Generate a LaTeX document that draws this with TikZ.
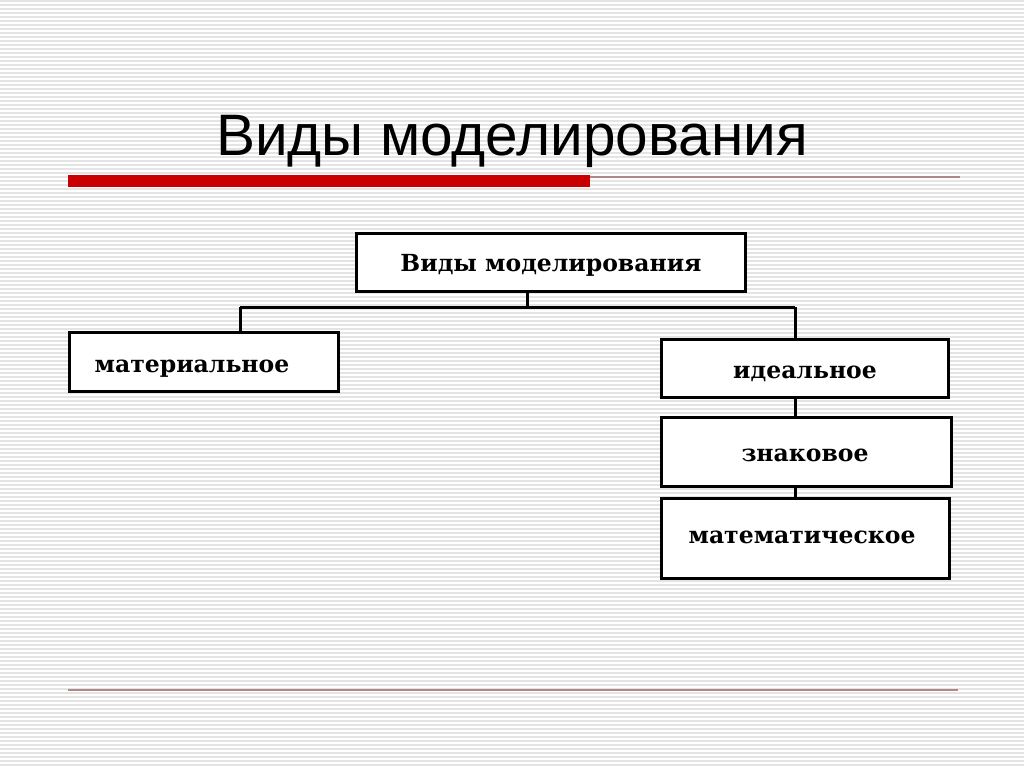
\documentclass[tikz,border=0pt]{standalone}
\usepackage{fontspec}
\setmainfont{Liberation Sans}
\newfontfamily\boxfont{DejaVu Serif}
\definecolor{stripe}{HTML}{E4E4E4}
\definecolor{barred}{HTML}{C80000}
\definecolor{thinred}{HTML}{B08888}
\begin{document}
\begin{tikzpicture}[x=1pt,y=-1pt,
  box/.style={draw=black,line width=3pt,fill=white,inner sep=0pt,anchor=north west},
  boxtext/.style={font=\boxfont\bfseries\fontsize{23.5}{26}\selectfont,anchor=base,inner sep=0pt},
  conn/.style={draw=black,line width=3pt}]
\useasboundingbox (0,0) rectangle (1024,768);
\fill[white] (0,0) rectangle (1024,768);
\foreach \yy in {1,5,...,767} {\draw[stripe,line width=1.3pt] (0,\yy) -- (1024,\yy);}
% title
\node[anchor=base,inner sep=0pt] (title) at (512,155) {\fontsize{58.5}{70}\selectfont Виды моделирования};
\fill[barred] (68,175) rectangle (590,187);
\draw[thinred,line width=1.2pt] (590,177) -- (960,177);
\draw[thinred,line width=1.5pt] (68,690) -- (958,690);
% boxes
\node[box,minimum width=389pt,minimum height=58pt] (root) at (355,232) {};
\node[boxtext] (roott) at (551,271) {Виды моделирования};
\node[box,minimum width=269pt,minimum height=59pt] (mat) at (68,331) {};
\node[boxtext] (matt) at (192,372) {материальное};
\node[box,minimum width=287pt,minimum height=58pt] (ide) at (660,338) {};
\node[boxtext] (idet) at (805,378) {идеальное};
\node[box,minimum width=290pt,minimum height=69pt] (zn) at (660,416) {};
\node[boxtext] (znt) at (805,461) {знаковое};
\node[box,minimum width=288pt,minimum height=80pt] (ma) at (660,497) {};
\node[boxtext] (mat2) at (802,543) {математическое};
% connectors
\coordinate (rs) at (527,290);
\coordinate (j) at (527,307);
\coordinate (jl) at (240,307);
\coordinate (jr) at (795,307);
\draw[conn] (rs) -- (j);
\draw[conn] (jl) -- (jr);
\draw[conn] (jl) -- (jl |- mat.north);
\draw[conn] (jr) -- (jr |- ide.north);
\draw[conn] (ide.south -| jr) -- (zn.north -| jr);
\draw[conn] (zn.south -| jr) -- (ma.north -| jr);
\end{tikzpicture}
\end{document}
